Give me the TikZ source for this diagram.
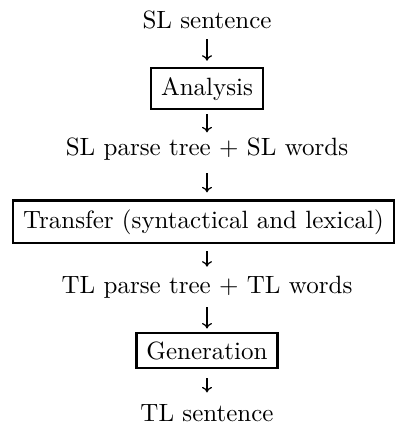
\documentclass[tikz,border=0pt]{standalone}
\usetikzlibrary{arrows.meta}
\begin{document}
\begin{tikzpicture}[x=0.4pt,y=-0.4pt,
  txt/.style={inner sep=0pt,anchor=base,font=\fontsize{10}{12}\selectfont},
  stagebox/.style={draw,line width=0.9pt,inner xsep=4pt,inner ysep=3.5pt,anchor=base,font=\fontsize{10}{12}\selectfont},
  arr/.style={-{Computer Modern Rightarrow[length=2.2pt,width=4pt]},line width=0.5pt}]
\useasboundingbox (0,0) rectangle (397,428);
\node[txt] (s1) at (207,28) {SL sentence};
\node[stagebox] (an) at (207,95) {Analysis};
\node[txt] (s2) at (207,155) {SL parse tree + SL words};
\node[stagebox] (tr) at (203.5,228) {Transfer (syntactical and lexical)};
\node[txt] (s3) at (207,293) {TL parse tree + TL words};
\node[stagebox] (ge) at (207,359) {Generation};
\node[txt] (s4) at (207,421) {TL sentence};
\draw[arr,shorten <=4pt,shorten >=2.6pt] (s1.south -| an.north) -- (an.north);
\draw[arr,shorten <=1.6pt,shorten >=1.8pt] (an.south) -- (an.south |- s2.north);
\draw[arr,shorten <=5.2pt,shorten >=2.8pt] (s2.south -| an.south) -- (an.south |- tr.north);
\draw[arr,shorten <=2.8pt,shorten >=3.4pt] (tr.south -| an.south) -- (an.south |- s3.north);
\draw[arr,shorten <=3.6pt,shorten >=1.2pt] (s3.south -| ge.north) -- (ge.north);
\draw[arr,shorten <=3.6pt,shorten >=4.4pt] (ge.south) -- (ge.south |- s4.north);
\end{tikzpicture}
\end{document}
